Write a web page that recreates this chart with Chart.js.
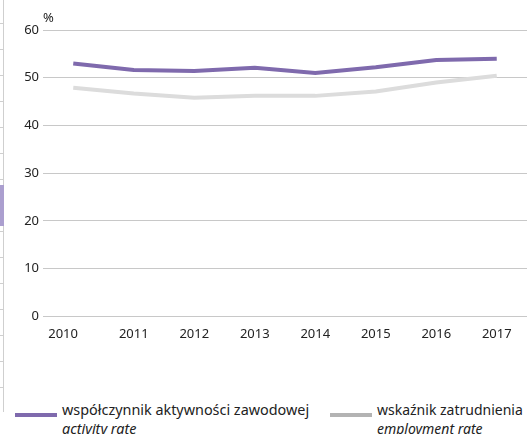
<!DOCTYPE html>
<html>
<head>
<meta charset="utf-8">
<script src="https://cdn.jsdelivr.net/npm/chart.js@4.4.1/dist/chart.umd.min.js"></script>
<style>
	html, body { margin: 0; padding: 0; background: #fff; }
	body { width: 527px; height: 434px; position: relative; overflow: hidden; font-family: "Noto Sans", sans-serif; color: #222; }
	#wrap { position: absolute; left: 0; top: 0; width: 527px; height: 344px; }
	#edge { position: absolute; left: 0; top: 0; width: 4px; height: 412px; border-right: 1px solid #cfcfcf; box-sizing: border-box;
		background: repeating-linear-gradient(to bottom, transparent 0, transparent 23px, #cfcfcf 23px, #cfcfcf 24px, transparent 24px, transparent 26px); }
	#edgeBox { position: absolute; left: 0; top: 185px; width: 4px; height: 41px; background: #ab9fcf; }
	#unit { position: absolute; left: 43px; top: 8px; font-size: 13px; }
	.legend { position: absolute; top: 400px; font-size: 14.4px; line-height: 19px; }
	.legend .sw { position: absolute; left: 0; top: 13px; width: 42px; height: 4px; }
	.legend .txt { margin-left: 47px; white-space: nowrap; }
	.legend i { display: block; }
</style>
</head>
<body>
<div id="edge"></div>
<div id="edgeBox"></div>
<div id="wrap"><canvas id="chart"></canvas></div>
<div id="unit">%</div>
<div class="legend" style="left:15px"><div class="sw" style="background:#7f6aad"></div><div class="txt">współczynnik aktywności zawodowej<i>activity rate</i></div></div>
<div class="legend" style="left:330px"><div class="sw" style="background:#b3b3b3"></div><div class="txt" style="font-size:14px">wskaźnik zatrudnienia<i>employment rate</i></div></div>
<script>
const years = ["2010", "2011", "2012", "2013", "2014", "2015", "2016", "2017"];
const activityRate = [53.0, 51.6, 51.4, 52.1, 51.0, 52.2, 53.7, 54.0];
const employmentRate = [47.9, 46.7, 45.8, 46.2, 46.2, 47.1, 49.0, 50.4];
const yTicks = [0, 10, 20, 30, 40, 50, 60];

new Chart(document.getElementById("chart"), {
	type: "line",
	data: {
		labels: years,
		datasets: [
			{
				label: "employment rate",
				data: employmentRate,
				borderColor: "#dcdcdc",
				borderWidth: 4,
				pointRadius: 0,
				tension: 0,
			},
			{
				label: "activity rate",
				data: activityRate,
				borderColor: "#7f6aad",
				borderWidth: 4,
				pointRadius: 0,
				tension: 0,
			},
		],
	},
	options: {
		responsive: true,
		maintainAspectRatio: false,
		animation: false,
		layout: { padding: { top: 30, right: 0, left: 0, bottom: 0 } },
		plugins: {
			legend: { display: false },
			tooltip: { enabled: false },
		},
		scales: {
			x: {
				offset: true,
				grid: { display: false },
				border: { display: false },
				ticks: {
					color: "#222",
					font: { family: "Noto Sans", size: 13 },
					padding: 2,
					maxRotation: 0,
					callback: (v, i) => (i === 0 ? years[i] + "      " : years[i]),
				},
			},
			y: {
				min: 0,
				max: 60,
				afterBuildTicks: (axis) => { axis.ticks = yTicks.map((v) => ({ value: v })); },
				afterFit: (axis) => { axis.width = 43; },
				grid: { color: "#c8c8c8", lineWidth: 1, drawTicks: false },
				border: { display: false },
				ticks: {
					color: "#222",
					font: { family: "Noto Sans", size: 13 },
					padding: 4,
				},
			},
		},
	},
});
</script>
</body>
</html>
